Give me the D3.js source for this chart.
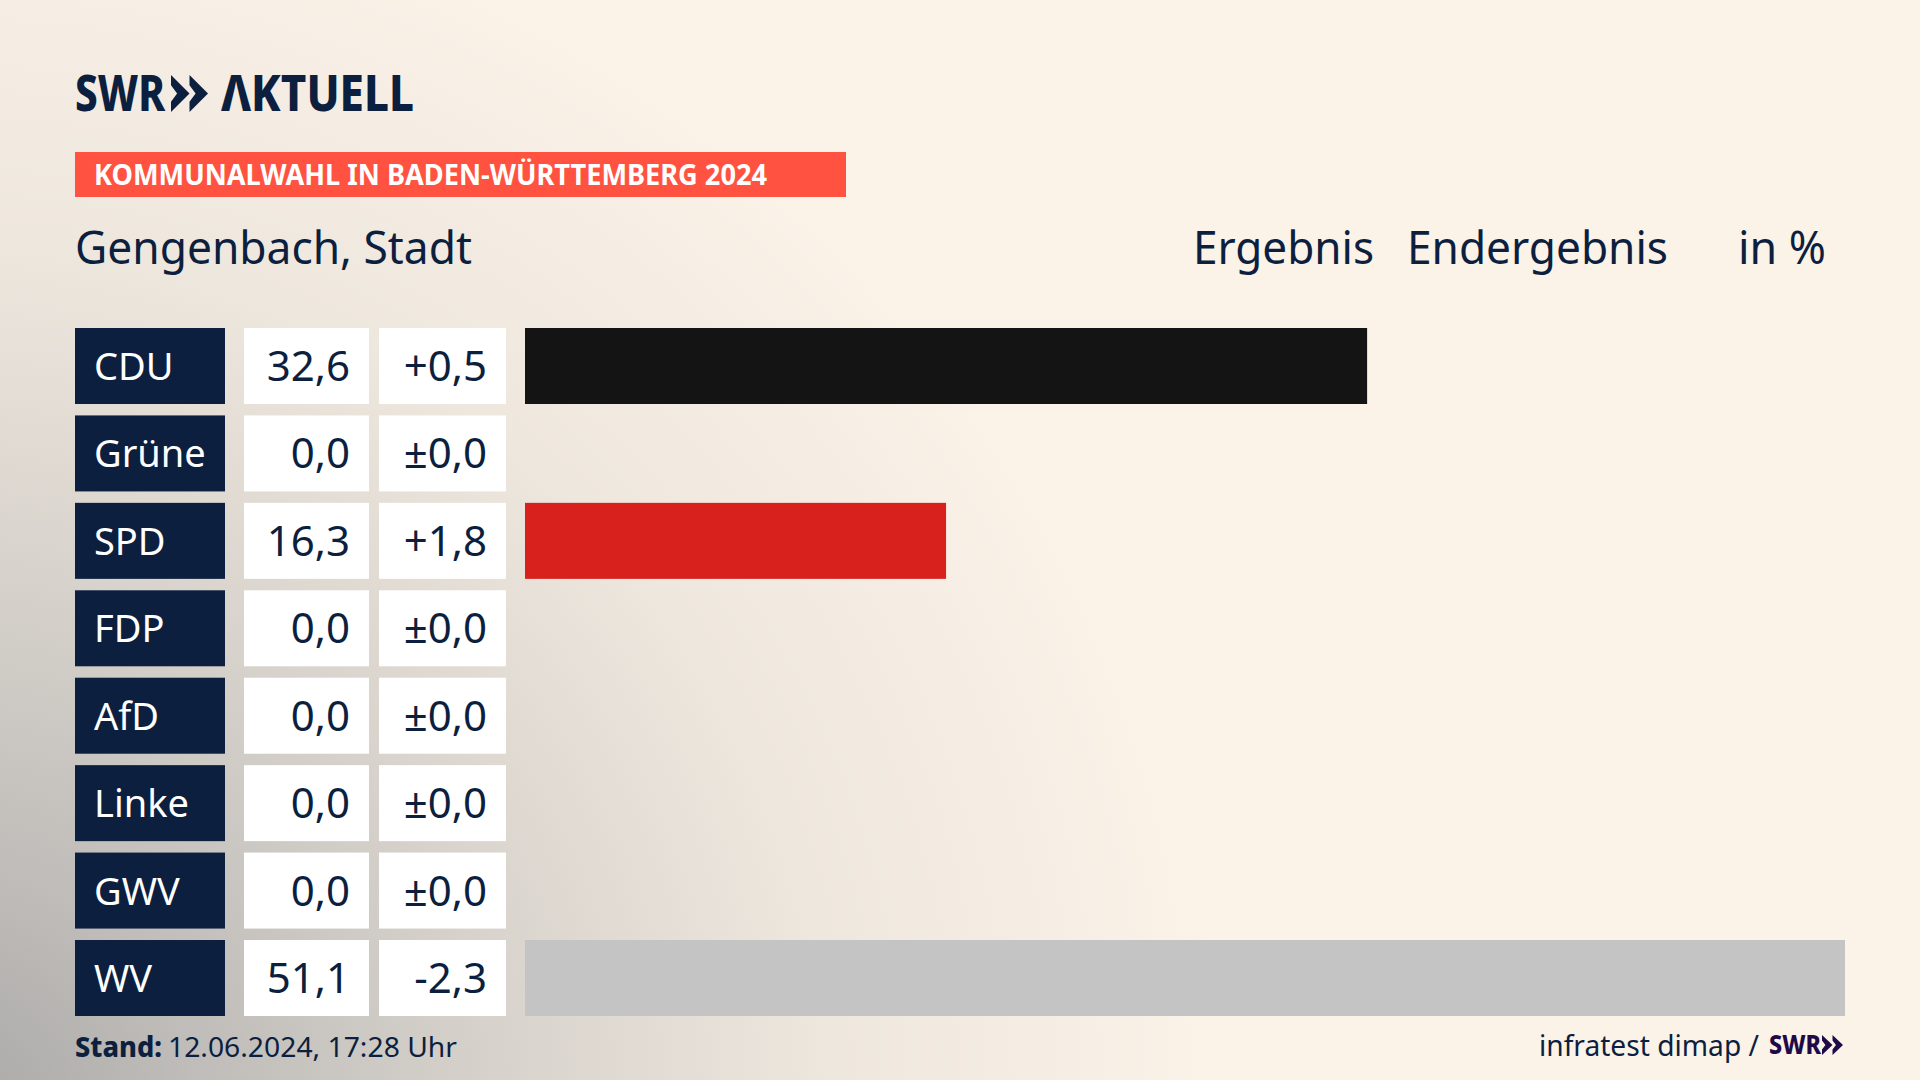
<!DOCTYPE html>
<html lang="de">
<head>
<meta charset="utf-8">
<title>Gengenbach, Stadt</title>
<script src="https://cdnjs.cloudflare.com/ajax/libs/d3/7.9.0/d3.min.js"></script>
<style>
  html, body { margin: 0; padding: 0; background: #fbf2e8; }
  svg { display: block; }
  text { font-family: "Noto Sans", sans-serif; fill: #0c1f3f; }
</style>
</head>
<body>
<svg id="chart" width="1920" height="1080"></svg>
<script>
const parties = ['CDU', 'Grüne', 'SPD', 'FDP', 'AfD', 'Linke', 'GWV', 'WV'];
const results = [32.6, 0, 16.3, 0, 0, 0, 0, 51.1];
const changes = [0.5, 0, 1.8, 0, 0, 0, 0, -2.3];
const barColors = ['#141414', '#46962b', '#d8201c', '#ffd600', '#009ee0', '#be3075', '#c4c4c4', '#c4c4c4'];

const svg = d3.select('#chart');
const navy = '#0c1f3f';

// background, grey glow from the bottom left corner
const defs = svg.append('defs');
const glow = defs.append('radialGradient')
  .attr('id', 'glow')
  .attr('gradientUnits', 'userSpaceOnUse')
  .attr('cx', 0).attr('cy', 0).attr('r', 1)
  .attr('gradientTransform', 'translate(-60,1120) scale(1280,1260)');
[[0, '#a9a8a6'], [0.2, '#bfbcb9'], [0.45, '#d8d3cc'], [0.7, '#eee7de'], [1, '#fbf2e8']]
  .forEach(d => glow.append('stop').attr('offset', d[0]).attr('stop-color', d[1]));
svg.append('rect').attr('width', 1920).attr('height', 1080).attr('fill', '#fbf2e8');
svg.append('rect').attr('width', 1920).attr('height', 1080).attr('fill', 'url(#glow)');

// helper for text that has to fill a known width
function label(x, y, str, size, width, weight) {
  const t = svg.append('text').attr('x', x).attr('y', y)
    .attr('font-size', size).attr('font-weight', weight || 400).text(str);
  if (width) t.attr('textLength', width).attr('lengthAdjust', 'spacingAndGlyphs');
  return t;
}

function chevrons(x, y, w, h, color) {
  const c = w / 2;
  [0, 1].forEach(i => {
    const x0 = x + i * c;
    svg.append('path').attr('fill', color)
      .attr('d', `M${x0},${y}L${x0 + c},${y + h / 2}L${x0},${y + h}L${x0},${y + h * 0.72}L${x0 + c * 0.33},${y + h / 2}L${x0},${y + h * 0.28}Z`);
  });
}

// logo
label(75, 111, 'SWR', 50, 90, 800);
chevrons(171, 75, 37, 37, navy);
label(221, 111, 'ΛKTUELL', 50, 193, 800);

// banner
svg.append('rect').attr('x', 75).attr('y', 152).attr('width', 771).attr('height', 45).attr('fill', '#ff5240');
label(94, 185, 'KOMMUNALWAHL IN BADEN-WÜRTTEMBERG 2024', 29, 673, 700).style('fill', '#fff');

// heading
label(75, 264, 'Gengenbach, Stadt', 45, 397);
label(1193, 264, 'Ergebnis', 45, 181);
label(1407, 264, 'Endergebnis', 45, 261);
label(1738, 264, 'in %', 45, 88);

// rows
const x = d3.scaleLinear().domain([0, d3.max(results)]).range([525, 1845]);
const y = d3.scaleBand().domain(parties).range([328, 1016]).paddingInner(0.1307);
const fmt = v => d3.format('.1f')(v).replace('.', ',').replace('−', '-');
const fmtChange = v => (v > 0 ? '+' : v < 0 ? '' : '±') + fmt(v);

const rows = svg.selectAll('g.row').data(parties).join('g').attr('class', 'row')
  .attr('transform', d => `translate(0,${y(d)})`);

rows.append('rect').attr('x', 75).attr('width', 150).attr('height', y.bandwidth()).attr('fill', navy);
rows.append('rect').attr('x', 244).attr('width', 125).attr('height', y.bandwidth()).attr('fill', '#fff');
rows.append('rect').attr('x', 379).attr('width', 127).attr('height', y.bandwidth()).attr('fill', '#fff');
rows.append('rect').attr('x', x(0)).attr('width', (d, i) => x(results[i]) - x(0))
  .attr('height', y.bandwidth()).attr('fill', (d, i) => barColors[i]);

rows.append('text').attr('x', 94).attr('y', 52).attr('font-size', 38).style('fill', '#fff').text(d => d);
rows.append('text').attr('x', 350).attr('y', 53).attr('font-size', 42).attr('text-anchor', 'end')
  .text((d, i) => fmt(results[i]));
rows.append('text').attr('x', 487).attr('y', 53).attr('font-size', 42).attr('text-anchor', 'end')
  .text((d, i) => fmtChange(changes[i]));

// footer
label(75, 1057, 'Stand:', 28, 87, 800);
label(168, 1057, '12.06.2024, 17:28 Uhr', 28, 289);
label(1539, 1056, 'infratest dimap /', 29, 220);
label(1769, 1054, 'SWR', 26, 52, 800).style('fill', '#1f0a47');
chevrons(1822, 1035, 21, 20, '#1f0a47');
</script>
</body>
</html>
